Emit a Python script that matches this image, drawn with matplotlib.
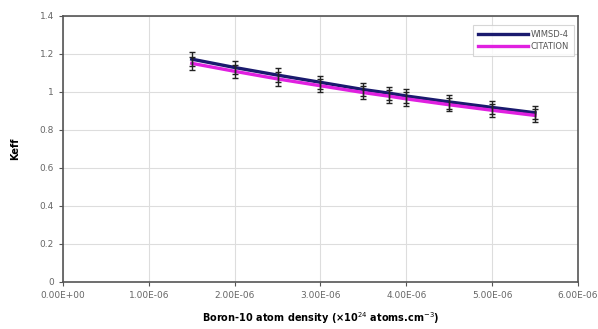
import numpy as np
import matplotlib
matplotlib.use("Agg")
import matplotlib.pyplot as plt
from matplotlib.ticker import FuncFormatter

# boron-10 atom density (x1e24 atoms/cm3)
density = [1.5e-6, 2.0e-6, 2.5e-6, 3.0e-6, 3.5e-6, 3.8e-6, 4.0e-6, 4.5e-6, 5.0e-6, 5.5e-6]
keff_wimsd = [1.172, 1.128, 1.088, 1.050, 1.012, 0.993, 0.978, 0.947, 0.918, 0.890]
keff_citation = [1.150, 1.108, 1.068, 1.032, 0.996, 0.977, 0.963, 0.932, 0.903, 0.876]
keff_err = [0.035, 0.035, 0.035, 0.035, 0.035, 0.035, 0.035, 0.035, 0.035, 0.035]

fig = plt.figure(figsize=(5.98, 3.29), dpi=100)
ax = fig.add_axes([0.1054, 0.143, 0.861, 0.809])

ax.plot(density, keff_wimsd, color='#1a1a6e', lw=2.4, label='WIMSD-4', zorder=3)
ax.plot(density, keff_citation, color='#e020e0', lw=2.4, label='CITATION', zorder=3)
ax.errorbar(density, keff_wimsd, yerr=keff_err, fmt='none', ecolor='#222222',
            elinewidth=1.0, capsize=2.5, capthick=1.0, zorder=4)
ax.errorbar(density, keff_citation, yerr=keff_err, fmt='none', ecolor='#222222',
            elinewidth=1.0, capsize=2.5, capthick=1.0, zorder=4)

ax.set_xlim(0, 6e-6)
ax.set_ylim(0, 1.4)
ax.set_xticks(np.arange(0, 6.01e-6, 1e-6))
ax.set_yticks(np.arange(0, 1.41, 0.2))
ax.xaxis.set_major_formatter(FuncFormatter(lambda v, p: f"{v:.2E}"))
ax.yaxis.set_major_formatter(FuncFormatter(lambda v, p: f"{v:g}"))
ax.grid(True, color='#dddddd', lw=0.8)
ax.set_axisbelow(True)

for s in ax.spines.values():
    s.set_color('#555555')
    s.set_linewidth(1.2)
ax.tick_params(labelsize=6.5, labelcolor='#666666', color='#555555', length=3)

ax.set_ylabel('Keff', fontsize=7, fontweight='bold', labelpad=14)
ax.set_xlabel('Boron-10 atom density (×10$^{24}$ atoms.cm$^{-3}$)', fontsize=7,
              fontweight='bold', labelpad=7)

# legend box sits inside the top right corner, like the excel original
leg = ax.legend(loc='upper right', bbox_to_anchor=(0.960, 0.924), bbox_transform=fig.transFigure,
                borderaxespad=0, fontsize=6, frameon=True, fancybox=False,
                handlelength=6, handletextpad=0.3, labelcolor='#555555',
                borderpad=0.6, labelspacing=0.3)
leg.get_frame().set_edgecolor('#cccccc')
leg.get_frame().set_linewidth(0.8)

fig.savefig('out.png', dpi=100)
